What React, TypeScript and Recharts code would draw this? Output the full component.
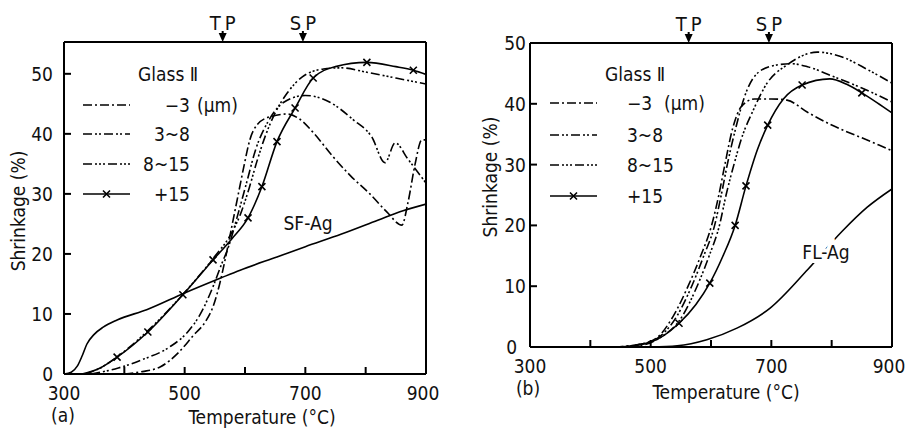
import { LineChart, Line, XAxis, YAxis, ReferenceLine, ReferenceDot } from 'recharts'

const FONT = "'DejaVu Sans Condensed', 'DejaVu Sans', sans-serif"

// panel (a): Glass II on SF-Ag
const A_M3_T = [400, 430, 460, 490, 515, 535, 548, 558, 568, 578, 588, 598, 608, 620, 640, 670, 690, 715, 745, 775, 807, 835, 860, 870, 882, 893, 900]
const A_M3_V = [0, 0.4, 1.2, 3.6, 6.5, 8.8, 11.5, 15, 19.5, 24.5, 29.5, 34.5, 39, 41.5, 42.8, 43.3, 42.5, 40, 36.3, 33, 30, 27, 24.8, 28.5, 35, 39, 39]
const A_38_T = [345, 390, 430, 475, 505, 525, 548, 560, 572, 588, 603, 618, 638, 665, 700, 740, 780, 810, 832, 849, 870, 900]
const A_38_V = [0, 1, 2.4, 4.5, 7, 9.8, 14.8, 18, 21, 26.5, 32, 37.5, 42, 45.3, 46.4, 45.3, 42.3, 39.5, 35.2, 38.5, 35.8, 31.8]
const A_815_T = [335, 360, 390, 440, 500, 550, 575, 592, 607, 620, 635, 650, 670, 695, 730, 760, 800, 850, 900]
const A_815_V = [0, 1, 3, 7.3, 13.6, 19.6, 23, 26.5, 31, 35.5, 40, 43.5, 46.8, 49.5, 50.8, 51, 50.3, 49.3, 48.3]
const A_P15_T = [330, 360, 388, 439, 497, 547, 578, 605, 628, 653, 683, 713, 750, 802, 850, 879, 900]
const A_P15_V = [0, 1, 2.8, 7, 13.2, 19, 22.5, 26, 31.2, 38.7, 44.3, 49.3, 51.2, 51.9, 51.2, 50.6, 49.9]
const A_P15_MARKS = [388, 439, 497, 547, 605, 628, 653, 683, 713, 802, 879]
const A_SUB_T = [300, 312, 322, 330, 338, 350, 365, 388, 437, 500, 560, 592, 653, 700, 760, 820, 862, 900]
const A_SUB_V = [0, 0.3, 1.3, 3, 5, 6.6, 7.8, 9, 10.7, 13.5, 16, 17.3, 19.5, 21.2, 23.3, 25.6, 27.2, 28.3]

// panel (b): Glass II on FL-Ag
const B_M3_T = [440, 480, 510, 537, 562, 583, 601, 613, 623, 636, 650, 672, 700, 726, 760, 800, 850, 900]
const B_M3_V = [0, 0.4, 1.5, 5, 10, 15, 20, 25, 30, 36, 39.5, 40.8, 40.8, 40.6, 38.6, 36.5, 34.4, 32.3]
const B_38_T = [440, 480, 512, 543, 568, 588, 606, 617, 627, 641, 655, 672, 700, 733, 760, 800, 850, 900]
const B_38_V = [0, 0.4, 1.5, 5, 10, 15, 20, 25, 30, 36, 41, 44.5, 46.2, 46.6, 46.1, 44.6, 42.6, 40.3]
const B_815_T = [450, 490, 515, 552, 577, 597, 614, 625, 638, 653, 668, 693, 726, 776, 820, 860, 900]
const B_815_V = [0, 0.4, 1.5, 5, 10, 15, 20, 25, 30, 35, 38.5, 43.4, 46.4, 48.5, 47.6, 45.6, 43.4]
const B_P15_T = [450, 500, 547, 575, 598, 620, 640, 658, 677, 694, 720, 751, 797, 825, 850, 875, 900]
const B_P15_V = [0, 0.8, 3.9, 7, 10.5, 15, 20, 26.5, 32.5, 36.5, 40.8, 43.1, 44.1, 43.2, 41.8, 40.2, 38.5]
const B_P15_MARKS = [547, 598, 640, 658, 694, 751, 850]
const B_SUB_T = [500, 544, 593, 643, 698, 760, 817, 859, 900]
const B_SUB_V = [0, 0.2, 1.2, 3.1, 6.4, 12.7, 19, 23, 26]

const X_TICKS = [300, 400, 500, 600, 700, 800, 900]
const X_LABELS = [300, 500, 700, 900]
const Y_TICKS = [0, 10, 20, 30, 40, 50]
const POINTS_T = [563, 696]
const POINTS_NAME = ['TP', 'SP']

const LEGEND = ['−3', '3~8', '8~15', '+15']
const DASHES = ['9 3 2 3', '9 3 2 2 2 3', '9 3 2 2 2 2 2 3', undefined]

function pts(t: number[], v: number[], marks: number[] = []) {
  return t.map((x, i) => ({ t: x, v: v[i], m: marks.includes(x) }))
}

const crossPath = (x: number, y: number, r = 3.5) =>
  `M${x - r},${y - r}L${x + r},${y + r}M${x + r},${y - r}L${x - r},${y + r}`

function XDot({ cx, cy, payload }: any) {
  if (!payload || !payload.m) return <g />
  return <path d={crossPath(cx, cy)} stroke="#000" strokeWidth={1.6} fill="none" />
}

function BottomTick({ x, y, payload }: any) {
  const v = payload.value
  return (
    <g>
      {v > 300 && v < 900 && <line x1={x} x2={x} y1={y} y2={y - 7} stroke="#000" strokeWidth={2} />}
      {X_LABELS.includes(v) && (
        <text x={v === 900 ? x - 3 : x} y={y + 26} textAnchor="middle" fontFamily={FONT} fontSize={19} fill="#111">{v}</text>
      )}
    </g>
  )
}

const makeLeftTick = (gap: number, zeroGap: number, top: number) => ({ x, y, payload }: any) => {
  const v = payload.value
  return (
    <g>
      {v > 0 && v < top && <line x1={x} x2={x + 7} y1={y} y2={y} stroke="#000" strokeWidth={2} />}
      <text x={x - (v === 0 ? zeroGap : gap)} y={y + 7} textAnchor="end" fontFamily={FONT} fontSize={19} fill="#111">{v}</text>
    </g>
  )
}

// arrow + name above the plot frame, placed on the data scale
const makeArrow = (name: string) => ({ cx, cy }: any) => (
  <g>
    <line x1={cx} x2={cx} y1={cy - 11} y2={cy - 5} stroke="#000" strokeWidth={2} />
    <path d={`M${cx - 4},${cy - 9}L${cx + 4},${cy - 9}L${cx},${cy}Z`} fill="#000" />
    <text x={cx + 2} y={cy - 12} textAnchor="middle" fontFamily={FONT} fontSize={20} letterSpacing={4} fill="#111">{name}</text>
  </g>
)

function Panel(props: {
  left: number; width: number; marginLeft: number; marginRight: number; yWidth: number
  topH: number; bottomH: number; yMax: number; gap: number; zeroGap: number; series: any[]; sub: any[]
}) {
  const { left, width, marginLeft, marginRight, yWidth, topH, bottomH, yMax, gap, zeroGap, series, sub } = props
  return (
    <div style={{ position: 'absolute', left, top: 0 }}>
      <LineChart width={width} height={428} margin={{ top: topH, right: marginRight, bottom: 0, left: marginLeft }}>
        <XAxis dataKey="t" type="number" domain={[300, 900]} allowDataOverflow ticks={X_TICKS} interval={0}
          tick={<BottomTick />} tickLine={false} tickSize={0} tickMargin={0} height={bottomH}
          axisLine={{ stroke: '#000', strokeWidth: 2 }} />
        <YAxis type="number" domain={[0, yMax]} allowDataOverflow ticks={Y_TICKS} interval={0}
          tick={makeLeftTick(gap, zeroGap, yMax)} tickLine={false} tickSize={0} tickMargin={0} width={yWidth}
          axisLine={{ stroke: '#000', strokeWidth: 2 }} />
        <ReferenceLine x={900} stroke="#000" strokeWidth={2} />
        <ReferenceLine y={yMax} stroke="#000" strokeWidth={2} />
        {series.map((d, i) => (
          <Line key={i} data={d} dataKey="v" type="monotone" stroke="#000" strokeWidth={1.6}
            strokeDasharray={DASHES[i]} dot={i === 3 ? <XDot /> : false} activeDot={false}
            isAnimationActive={false} />
        ))}
        <Line data={sub} dataKey="v" type="monotone" stroke="#000" strokeWidth={1.6} dot={false}
          activeDot={false} isAnimationActive={false} />
        {POINTS_T.map((t, i) => (
          <ReferenceDot key={t} x={t} y={yMax} r={0} ifOverflow="visible" shape={makeArrow(POINTS_NAME[i])} />
        ))}
      </LineChart>
    </div>
  )
}

const txt = { fontFamily: FONT, fontSize: 19, fill: '#111' }

function LegendBlock({ glassX, lineX0, lineX1, rows, textX, anchor, unitX }: any) {
  return (
    <g>
      <text x={glassX} y={81} {...txt}>Glass Ⅱ</text>
      {LEGEND.map((name, i) => (
        <g key={name}>
          <line x1={lineX0} x2={lineX1} y1={rows[i]} y2={rows[i]} stroke="#000" strokeWidth={1.6}
            strokeDasharray={DASHES[i]} />
          {i === 3 && <path d={crossPath((lineX0 + lineX1) / 2, rows[i])} stroke="#000" strokeWidth={1.6} />}
          <text x={textX} y={rows[i] + 7} textAnchor={anchor} {...txt}>{name}</text>
          {i === 0 && <text x={unitX} y={rows[i] + 7} {...txt}>(μm)</text>}
        </g>
      ))}
    </g>
  )
}

export default function App() {
  const seriesA = [pts(A_M3_T, A_M3_V), pts(A_38_T, A_38_V), pts(A_815_T, A_815_V), pts(A_P15_T, A_P15_V, A_P15_MARKS)]
  const seriesB = [pts(B_M3_T, B_M3_V), pts(B_38_T, B_38_V), pts(B_815_T, B_815_V), pts(B_P15_T, B_P15_V, B_P15_MARKS)]
  return (
    <div style={{ position: 'absolute', left: 0, top: 0, width: 906, height: 428, background: '#fff', overflow: 'hidden' }}>
      <Panel left={0} width={460} marginLeft={20} marginRight={34} yWidth={44} topH={42} bottomH={54}
        yMax={55.3} gap={11} zeroGap={11} series={seriesA} sub={pts(A_SUB_T, A_SUB_V)} />
      <Panel left={460} width={446} marginLeft={20} marginRight={14} yWidth={50} topH={43} bottomH={81}
        yMax={50} gap={4} zeroGap={13} series={seriesB} sub={pts(B_SUB_T, B_SUB_V)} />
      <svg width={906} height={428} style={{ position: 'absolute', left: 0, top: 0, pointerEvents: 'none' }}>
        <LegendBlock glassX={138} lineX0={83} lineX1={130} rows={[105, 134, 164, 194]} textX={190} anchor="end" unitX={197} />
        <LegendBlock glassX={605} lineX0={550} lineX1={597} rows={[103, 135, 165, 196]} textX={627} anchor="start" unitX={664} />
        <text x={18} y={211} transform="rotate(-90 18 211)" textAnchor="middle" dominantBaseline="central" {...txt}>Shrinkage (%)</text>
        <text x={490} y={177} transform="rotate(-90 490 177)" textAnchor="middle" dominantBaseline="central" {...txt}>Shrinkage  (%)</text>
        <text x={262} y={424} textAnchor="middle" {...txt}>Temperature (°C)</text>
        <text x={726} y={399} textAnchor="middle" {...txt}>Temperature (°C)</text>
        <text x={63} y={422} textAnchor="middle" {...txt}>(a)</text>
        <text x={528} y={395} textAnchor="middle" {...txt}>(b)</text>
        <text x={308} y={230} textAnchor="middle" stroke="#fff" strokeWidth={6} paintOrder="stroke" {...txt}>SF-Ag</text>
        <text x={826} y={259} textAnchor="middle" stroke="#fff" strokeWidth={8} paintOrder="stroke" {...txt}>FL-Ag</text>
      </svg>
    </div>
  )
}
